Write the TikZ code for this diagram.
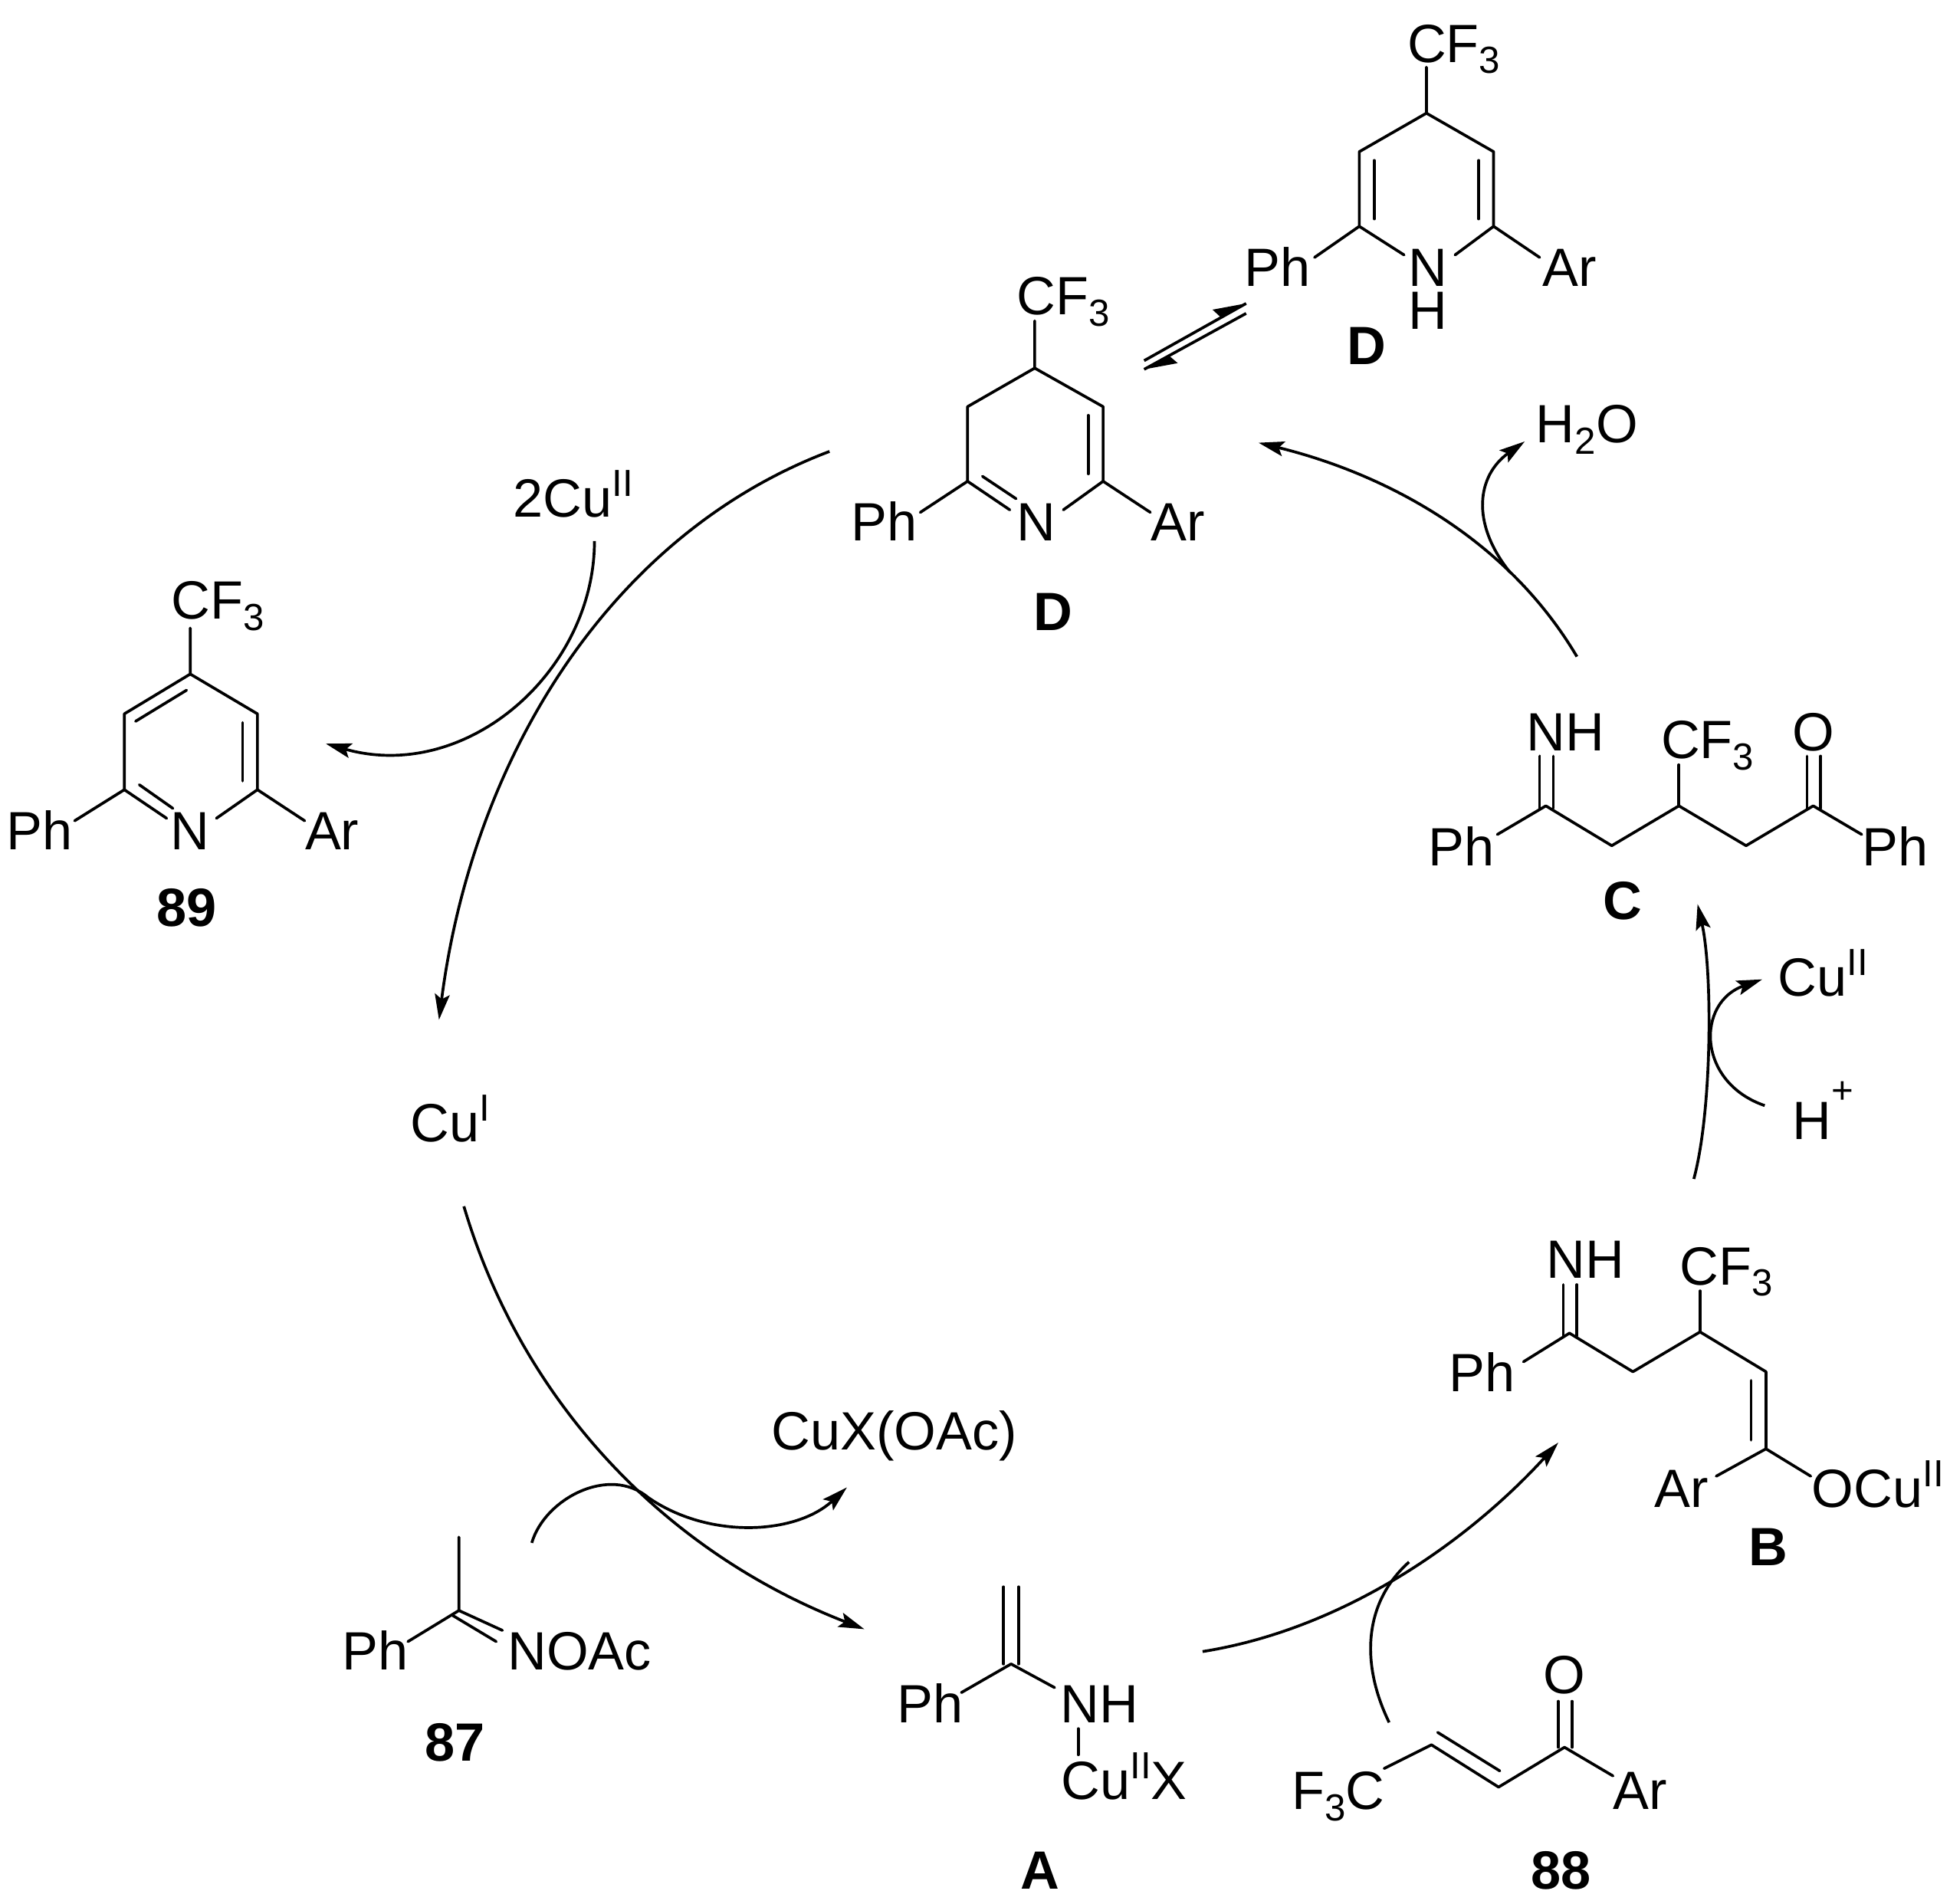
\documentclass[tikz,border=0pt]{standalone}
\usepackage{fontspec}
\setmainfont{Liberation Sans}
\usetikzlibrary{arrows.meta}
\newcommand\sbs[1]{\raisebox{-0.21em}{\fontsize{14}{14}\selectfont #1}}
\newcommand\sps[1]{\raisebox{0.39em}{\fontsize{14}{14}\selectfont #1}}
\newcommand\spp[1]{\raisebox{0.68em}{\fontsize{14}{14}\selectfont #1}}
\tikzset{
  lbl/.style={anchor=base,inner sep=0pt,font=\fontsize{20}{20}\selectfont},
  cpd/.style={anchor=base,inner sep=0pt,font=\fontsize{20}{20}\selectfont\bfseries},
  bond/.style={line width=1.05pt,line cap=round,line join=round},
  rxn/.style={line width=1.05pt,-{Stealth[length=9.5pt,width=5.5pt,inset=1.8pt]}},
  plain/.style={line width=1.05pt},
  tip/.style={fill=black,draw=none}
}
\begin{document}
\begin{tikzpicture}[x=0.016224cm,y=-0.016224cm]
\useasboundingbox (0,0) rectangle (1568,1531);
% ---- top D (NH form)
\node[lbl] (d1cf) at (1169,50) {CF\sbs{3}};
\node[lbl] (d1ph) at (1027,230) {Ph};
\node[lbl] (d1n) at (1148,230) {N};
\node[lbl] (d1h) at (1148,265) {H};
\node[lbl] (d1ar) at (1262,230) {Ar};
\node[cpd] (d1lab) at (1099,293) {D};
\coordinate (a1) at (1147,91);
\coordinate (a2) at (1093,122);
\coordinate (a3) at (1093,182);
\coordinate (a4) at (1201,122);
\coordinate (a5) at (1201,182);
\draw[bond] (1147,54) coordinate (a0) -- (a1) -- (a2) -- (a3) -- (1129,205) coordinate (a6);
\draw[bond] (a1) -- (a4) -- (a5) -- (1170,205) coordinate (a7);
\draw[bond] (a3) -- (1057,207) coordinate (a8);
\draw[bond] (a5) -- (1238,207) coordinate (a9);
\draw[bond] (1105,129) coordinate (a10) -- (1105,176) coordinate (a11);
\draw[bond] (1189,129) coordinate (a12) -- (1189,176) coordinate (a13);
% ---- equilibrium
\coordinate (e1) at (920,290);
\coordinate (e2) at (1002,244);
\coordinate (e3) at (920,297);
\coordinate (e4) at (1002,252);
\draw[plain] (e1) -- (e2);
\draw[plain] (e3) -- (e4);
\fill[tip] (e2) -- (975,249) -- (982,255.5) -- cycle;
\fill[tip] (e3) -- (947,292) -- (940,286) -- cycle;
% ---- lower D
\node[lbl] (d2cf) at (855,253) {CF\sbs{3}};
\node[lbl] (d2ph) at (711,435) {Ph};
\node[lbl] (d2n) at (833,435) {N};
\node[lbl] (d2ar) at (947,435) {Ar};
\node[cpd] (d2lab) at (847,507) {D};
\coordinate (b1) at (832,296);
\coordinate (b2) at (778,327);
\coordinate (b3) at (778,387);
\coordinate (b4) at (887,327);
\coordinate (b5) at (887,387);
\draw[bond] (832,258) coordinate (b0) -- (b1) -- (b2) -- (b3) -- (812,410) coordinate (b6);
\draw[bond] (b1) -- (b4) -- (b5) -- (855,410) coordinate (b7);
\draw[bond] (b3) -- (740,412) coordinate (b8);
\draw[bond] (b5) -- (925,412) coordinate (b9);
\draw[bond] (790,383) coordinate (b10) -- (817,401) coordinate (b11);
\draw[bond] (875,334) coordinate (b12) -- (875,381) coordinate (b13);
% ---- 89
\node[lbl] (p89cf) at (175,498) {CF\sbs{3}};
\node[lbl] (p89ph) at (32,683) {Ph};
\node[lbl] (p89n) at (153,683) {N};
\node[lbl] (p89ar) at (267,683) {Ar};
\node[cpd] (p89lab) at (150,745) {89};
\coordinate (c1) at (153,542);
\coordinate (c2) at (100,574);
\coordinate (c3) at (100,635);
\coordinate (c4) at (207,574);
\coordinate (c5) at (207,635);
\draw[bond] (153,505) coordinate (c0) -- (c1) -- (c2) -- (c3) -- (134,658) coordinate (c6);
\draw[bond] (c1) -- (c4) -- (c5) -- (174,658) coordinate (c7);
\draw[bond] (c3) -- (60,660) coordinate (c8);
\draw[bond] (c5) -- (245,660) coordinate (c9);
\draw[bond] (109,580) coordinate (c10) -- (150,555) coordinate (c11);
\draw[bond] (195,581) coordinate (c12) -- (195,628) coordinate (c13);
\draw[bond] (112,631) coordinate (c14) -- (139,650) coordinate (c15);
% ---- Cu labels
\node[lbl] (cu2) at (461,416) {2Cu\sps{II}};
\node[lbl] (cu1) at (362,918) {Cu\sps{I}};
\node[lbl] (cux) at (719,1166) {CuX(OAc)};
% ---- 87
\node[lbl] (s87ph) at (302,1343) {Ph};
\node[lbl] (s87n) at (466,1343) {NOAc};
\node[cpd] (s87lab) at (366,1416) {87};
\coordinate (f1) at (369,1236);
\coordinate (f2) at (369,1295);
\draw[bond] (f1) -- (f2) -- (328,1320) coordinate (f3);
\draw[bond] (f2) -- (404,1311) coordinate (f4);
\draw[bond] (364,1299) coordinate (f5) -- (399,1320) coordinate (f6);
% ---- A
\node[lbl] (aph) at (748,1385) {Ph};
\node[lbl] (anh) at (884,1385) {NH};
\node[lbl] (acu) at (904,1447) {Cu\sps{II}X};
\node[cpd] (alab) at (836,1519) {A};
\coordinate (g1) at (813,1338);
\draw[bond] (807,1276) coordinate (g2) -- (807,1338) coordinate (g3);
\draw[bond] (819,1276) coordinate (g4) -- (819,1338) coordinate (g5);
\draw[bond] (g1) -- (773,1361) coordinate (g6);
\draw[bond] (g1) -- (848,1357) coordinate (g7);
\draw[bond] (867,1390) coordinate (g8) -- (867,1411) coordinate (g9);
% ---- 88
\node[lbl] (s88f) at (1076,1455) {F\sbs{3}C};
\node[lbl] (s88o) at (1258,1362) {O};
\node[lbl] (s88ar) at (1319,1455) {Ar};
\node[cpd] (s88lab) at (1255,1519) {88};
\coordinate (h1) at (1151,1403);
\coordinate (h2) at (1205,1437);
\coordinate (h3) at (1258,1405);
\draw[bond] (1113,1422) coordinate (h0) -- (h1) -- (h2) -- (h3) -- (1297,1428) coordinate (h4);
\draw[bond] (1156,1393) coordinate (h5) -- (1206,1424) coordinate (h6);
\draw[bond] (1253,1405) coordinate (h7) -- (1253,1368) coordinate (h8);
\draw[bond] (1264,1405) coordinate (h9) -- (1264,1368) coordinate (h10);
% ---- B
\node[lbl] (bnh) at (1275,1028) {NH};
\node[lbl] (bcf) at (1388,1033) {CF\sbs{3}};
\node[lbl] (bph) at (1192,1119) {Ph};
\node[lbl] (bar) at (1352,1212) {Ar};
\node[lbl] (bocu) at (1510,1212) {OCu\sps{II}};
\node[cpd] (blab) at (1422,1259) {B};
\coordinate (i1) at (1262,1072);
\coordinate (i2) at (1313,1103);
\coordinate (i3) at (1367,1071);
\coordinate (i4) at (1420,1103);
\coordinate (i5) at (1420,1165);
\draw[bond] (1225,1095) coordinate (i0) -- (i1) -- (i2) -- (i3) -- (i4) -- (i5) -- (1456,1187) coordinate (i6);
\draw[bond] (i3) -- (1367,1038) coordinate (i7);
\draw[bond] (i5) -- (1380,1187) coordinate (i8);
\draw[bond] (1257,1074) coordinate (i9) -- (1257,1033) coordinate (i10);
\draw[bond] (1268,1074) coordinate (i11) -- (1268,1033) coordinate (i12);
\draw[bond] (1408,1110) coordinate (i13) -- (1408,1158) coordinate (i14);
% ---- C
\node[lbl] (cnh) at (1259,604) {NH};
\node[lbl] (ccf) at (1373,610) {CF\sbs{3}};
\node[lbl] (co) at (1458,604) {O};
\node[lbl] (cph) at (1175,696) {Ph};
\node[lbl] (cpr) at (1524,696) {Ph};
\node[cpd] (clab) at (1305,739) {C};
\coordinate (j1) at (1243,648);
\coordinate (j2) at (1296,680);
\coordinate (j3) at (1350,648);
\coordinate (j4) at (1404,680);
\coordinate (j5) at (1458,648);
\draw[bond] (1204,671) coordinate (j0) -- (j1) -- (j2) -- (j3) -- (j4) -- (j5) -- (1497,671) coordinate (j6);
\draw[bond] (j3) -- (1350,615) coordinate (j7);
\draw[bond] (1238,650) coordinate (j8) -- (1238,608) coordinate (j9);
\draw[bond] (1249,650) coordinate (j10) -- (1249,608) coordinate (j11);
\draw[bond] (1453,650) coordinate (j12) -- (1453,608) coordinate (j13);
\draw[bond] (1464,650) coordinate (j14) -- (1464,608) coordinate (j15);
% ---- side labels
\node[lbl] (h2o) at (1276,356) {H\sbs{2}O};
\node[lbl] (cur) at (1466,801) {Cu\sps{II}};
\node[lbl] (hp) at (1466,916.5) {H\spp{+}};
% ---- cycle arrows
\coordinate (k1) at (1268,528);
\coordinate (k2) at (1012,356);
\draw[rxn] (k1) .. controls (1210,430) and (1110,380) .. (k2);
\coordinate (k3) at (1214,460);
\coordinate (k4) at (1226,355);
\draw[rxn] (k3) .. controls (1182,420) and (1188,382) .. (k4);
\coordinate (k5) at (667,363);
\coordinate (k6) at (353,820);
\draw[rxn] (k5) .. controls (490,430) and (380,610) .. (k6);
\coordinate (k7) at (478,435);
\coordinate (k8) at (262,598);
\draw[rxn] (k7) .. controls (478,540) and (375,630) .. (k8);
\coordinate (k9) at (373,970);
\coordinate (k10) at (695,1310);
\draw[rxn] (k9) .. controls (420,1128) and (535,1248) .. (k10);
\coordinate (k11) at (427.6,1240.6);
\coordinate (k12) at (521,1204);
\coordinate (k13) at (681,1196);
\draw[rxn] (k11) .. controls (438,1205) and (490,1178) .. (k12) .. controls (570,1238) and (640,1234) .. (k13);
\coordinate (k14) at (967,1328);
\coordinate (k15) at (1253,1160);
\draw[rxn] (k14) .. controls (1080,1310) and (1180,1240) .. (k15);
\coordinate (k16) at (1117,1385);
\coordinate (k17) at (1133,1256);
\draw[plain] (k16) .. controls (1095,1340) and (1095,1290) .. (k17);
\coordinate (k18) at (1362,948);
\coordinate (k19) at (1365,727);
\draw[rxn] (k18) .. controls (1377,892) and (1377,780) .. (k19);
\coordinate (k20) at (1419,889);
\coordinate (k21) at (1417,787.5);
\draw[rxn] (k20) .. controls (1364,870) and (1364,806) .. (k21);
\end{tikzpicture}
\end{document}
